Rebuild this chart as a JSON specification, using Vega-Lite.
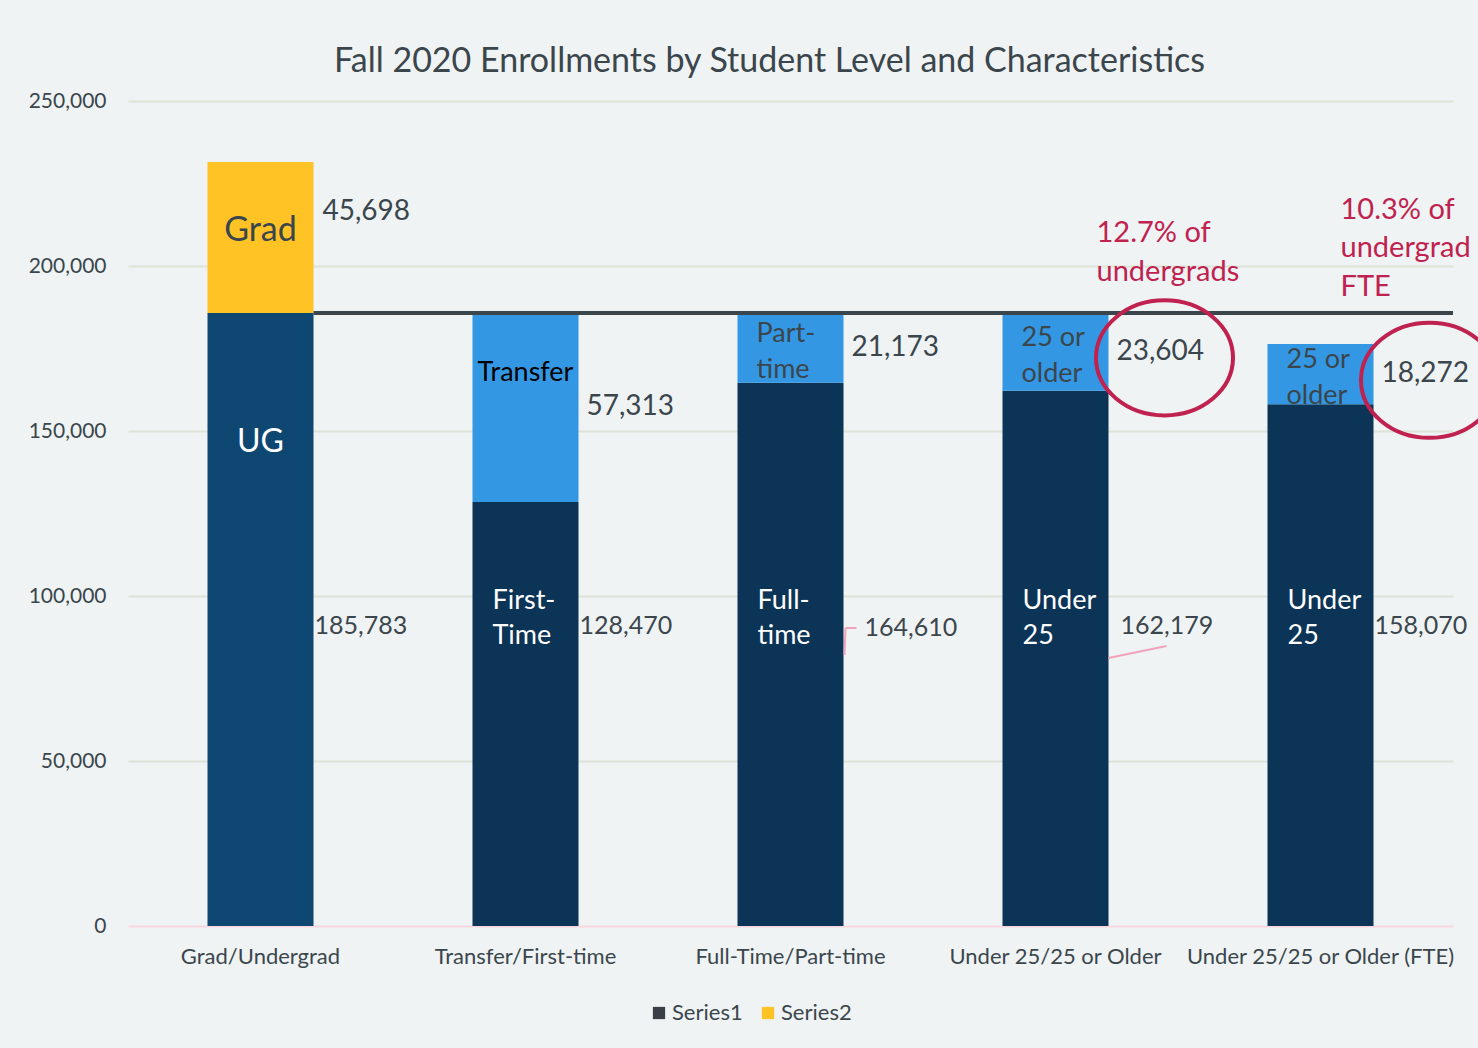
{
  "$schema": "https://vega.github.io/schema/vega-lite/v6.json",
  "width": 1325,
  "height": 825,
  "autosize": {"type": "none"},
  "padding": {"left": 128, "top": 101, "right": 25, "bottom": 122},
  "background": "#EFF3F4",
  "config": {"font": "Lato", "view": {"stroke": null}},
  "title": {"text": "Fall 2020 Enrollments by Student Level and Characteristics", "fontSize": 34, "fontWeight": "normal", "color": "#3B464C", "anchor": "middle", "frame": "group", "dx": -21, "offset": 11, "font": "Lato"},
  "data": {"values": [
    {"cat": "Grad/Undergrad", "series": "Series1", "part": "UG", "label": "UG", "value": 185783},
    {"cat": "Grad/Undergrad", "series": "Series2", "part": "Grad", "label": "Grad", "value": 45698},
    {"cat": "Transfer/First-time", "series": "Series1", "part": "First-Time", "label": "First-\nTime", "value": 128470},
    {"cat": "Transfer/First-time", "series": "Series2", "part": "Transfer", "label": "Transfer", "value": 57313},
    {"cat": "Full-Time/Part-time", "series": "Series1", "part": "Full-time", "label": "Full-\ntime", "value": 164610},
    {"cat": "Full-Time/Part-time", "series": "Series2", "part": "Part-time", "label": "Part-\ntime", "value": 21173},
    {"cat": "Under 25/25 or Older", "series": "Series1", "part": "Under 25", "label": "Under\n25", "value": 162179},
    {"cat": "Under 25/25 or Older", "series": "Series2", "part": "25 or older", "label": "25 or\nolder", "value": 23604},
    {"cat": "Under 25/25 or Older (FTE)", "series": "Series1", "part": "Under 25 (FTE)", "label": "Under\n25", "value": 158070},
    {"cat": "Under 25/25 or Older (FTE)", "series": "Series2", "part": "25 or older (FTE)", "label": "25 or\nolder", "value": 18272}
  ]},
  "layer": [
    {
      "transform": [{"stack": "value", "groupby": ["cat"], "sort": [{"field": "series", "order": "ascending"}], "as": ["v0", "v1"]}],
      "mark": {"type": "bar"},
      "encoding": {
        "x": {"field": "cat", "type": "nominal", "title": null, "sort": ["Grad/Undergrad", "Transfer/First-time", "Full-Time/Part-time", "Under 25/25 or Older", "Under 25/25 or Older (FTE)"],
          "scale": {"paddingInner": 0.6, "paddingOuter": 0.3},
          "axis": {"domain": false, "ticks": false, "labelFontSize": 22, "labelColor": "#3B464C", "labelPadding": 20, "labelAngle": 0, "labelLimit": 400, "labelOverlap": false, "grid": false}},
        "y": {"field": "v0", "type": "quantitative", "title": null, "scale": {"domain": [0, 250000], "nice": false, "padding": 0},
          "axis": {"values": [0, 50000, 100000, 150000, 200000, 250000], "labelExpr": "format(datum.value, ',')", "domain": false, "ticks": false, "labelFontSize": 21, "labelColor": "#3B464C", "labelPadding": 22,
            "gridColor": {"condition": {"test": "datum.value === 0", "value": "#F8D7DE"}, "value": "#DDE3D8"}, "gridWidth": 2}},
        "y2": {"field": "v1"},
        "color": {"field": "part", "type": "nominal",
          "scale": {"domain": ["Series1", "Series2", "UG", "Grad", "First-Time", "Transfer", "Full-time", "Part-time", "Under 25", "25 or older", "Under 25 (FTE)", "25 or older (FTE)"],
            "range": ["#3A3F45", "#FFC325", "#0F4773", "#FFC325", "#0C3457", "#3497E3", "#0C3457", "#3497E3", "#0C3457", "#3497E3", "#0C3457", "#3497E3"]},
          "legend": {"values": ["Series1", "Series2"], "title": null, "orient": "none", "legendX": 520, "legendY": 901, "direction": "horizontal", "symbolType": "square", "symbolSize": 150, "symbolStrokeWidth": 0, "labelFontSize": 22, "labelColor": "#3B464C", "labelOffset": 2, "columnPadding": 14}}
      }
    },
    {
      "transform": [{"stack": "value", "groupby": ["cat"], "sort": [{"field": "series", "order": "ascending"}], "as": ["v0", "v1"]}, {"filter": "datum.part === 'UG'"}],
      "mark": {"type": "rule", "color": "#3A464B", "strokeWidth": 4},
      "encoding": {
        "x": {"field": "cat", "type": "nominal", "bandPosition": 1, "sort": ["Grad/Undergrad", "Transfer/First-time", "Full-Time/Part-time", "Under 25/25 or Older", "Under 25/25 or Older (FTE)"]},
        "x2": {"value": "width"},
        "y": {"field": "v1", "type": "quantitative", "title": null, "scale": {"domain": [0, 250000], "nice": false, "padding": 0}}
      }
    },
    {
      "transform": [{"filter": "datum.part === 'Under 25'"}],
      "mark": {"type": "rule", "color": "#F2A2BA", "strokeWidth": 2, "x2Offset": 58},
      "encoding": {
        "x": {"field": "cat", "type": "nominal", "bandPosition": 1, "sort": ["Grad/Undergrad", "Transfer/First-time", "Full-Time/Part-time", "Under 25/25 or Older", "Under 25/25 or Older (FTE)"]},
        "x2": {"field": "cat", "bandPosition": 1},
        "y": {"datum": 81200, "type": "quantitative", "title": null, "scale": {"domain": [0, 250000], "nice": false, "padding": 0}},
        "y2": {"datum": 84850}
      }
    },
    {
      "transform": [{"filter": "datum.part === 'Full-time'"}],
      "mark": {"type": "rule", "color": "#F2A2BA", "strokeWidth": 2, "xOffset": 1, "x2Offset": 2},
      "encoding": {
        "x": {"field": "cat", "type": "nominal", "bandPosition": 1, "sort": ["Grad/Undergrad", "Transfer/First-time", "Full-Time/Part-time", "Under 25/25 or Older", "Under 25/25 or Older (FTE)"]},
        "x2": {"field": "cat", "bandPosition": 1},
        "y": {"datum": 82100, "type": "quantitative", "title": null, "scale": {"domain": [0, 250000], "nice": false, "padding": 0}},
        "y2": {"datum": 90300}
      }
    },
    {
      "transform": [{"filter": "datum.part === 'Full-time'"}],
      "mark": {"type": "rule", "color": "#F2A2BA", "strokeWidth": 2, "xOffset": 2, "x2Offset": 13},
      "encoding": {
        "x": {"field": "cat", "type": "nominal", "bandPosition": 1, "sort": ["Grad/Undergrad", "Transfer/First-time", "Full-Time/Part-time", "Under 25/25 or Older", "Under 25/25 or Older (FTE)"]},
        "x2": {"field": "cat", "bandPosition": 1},
        "y": {"datum": 90300, "type": "quantitative", "title": null, "scale": {"domain": [0, 250000], "nice": false, "padding": 0}}
      }
    },
    {
      "transform": [{"filter": "datum.series === 'Series1' && datum.part !== 'Full-time' && datum.part !== 'Under 25'"}],
      "mark": {"type": "text", "align": "left", "baseline": "middle", "dx": 1, "fontSize": 25, "color": "#3B464C"},
      "encoding": {
        "x": {"field": "cat", "type": "nominal", "bandPosition": 1, "sort": ["Grad/Undergrad", "Transfer/First-time", "Full-Time/Part-time", "Under 25/25 or Older", "Under 25/25 or Older (FTE)"]},
        "y": {"datum": 91000, "type": "quantitative", "title": null, "scale": {"domain": [0, 250000], "nice": false, "padding": 0}},
        "text": {"field": "value", "type": "quantitative", "format": ","}
      }
    },
    {
      "transform": [{"filter": "datum.part === 'Full-time'"}],
      "mark": {"type": "text", "align": "left", "baseline": "middle", "dx": 21, "fontSize": 25, "color": "#3B464C"},
      "encoding": {
        "x": {"field": "cat", "type": "nominal", "bandPosition": 1, "sort": ["Grad/Undergrad", "Transfer/First-time", "Full-Time/Part-time", "Under 25/25 or Older", "Under 25/25 or Older (FTE)"]},
        "y": {"datum": 90300, "type": "quantitative", "title": null, "scale": {"domain": [0, 250000], "nice": false, "padding": 0}},
        "text": {"field": "value", "type": "quantitative", "format": ","}
      }
    },
    {
      "transform": [{"filter": "datum.part === 'Under 25'"}],
      "mark": {"type": "text", "align": "left", "baseline": "middle", "dx": 12, "fontSize": 25, "color": "#3B464C"},
      "encoding": {
        "x": {"field": "cat", "type": "nominal", "bandPosition": 1, "sort": ["Grad/Undergrad", "Transfer/First-time", "Full-Time/Part-time", "Under 25/25 or Older", "Under 25/25 or Older (FTE)"]},
        "y": {"datum": 91000, "type": "quantitative", "title": null, "scale": {"domain": [0, 250000], "nice": false, "padding": 0}},
        "text": {"field": "value", "type": "quantitative", "format": ","}
      }
    },
    {
      "transform": [
        {"stack": "value", "groupby": ["cat"], "sort": [{"field": "series", "order": "ascending"}], "as": ["v0", "v1"]},
        {"filter": "datum.series === 'Series2' && datum.part !== 'Grad'"},
        {"fold": ["v0", "v1"], "as": ["k", "kv"]},
        {"aggregate": [{"op": "mean", "field": "kv", "as": "mid"}], "groupby": ["cat", "series", "part", "label", "value"]}
      ],
      "mark": {"type": "text", "align": "left", "baseline": "middle", "dx": 8, "fontSize": 28, "color": "#3B464C"},
      "encoding": {
        "x": {"field": "cat", "type": "nominal", "bandPosition": 1, "sort": ["Grad/Undergrad", "Transfer/First-time", "Full-Time/Part-time", "Under 25/25 or Older", "Under 25/25 or Older (FTE)"]},
        "y": {"field": "mid", "type": "quantitative", "title": null, "scale": {"domain": [0, 250000], "nice": false, "padding": 0}},
        "text": {"field": "value", "type": "quantitative", "format": ","}
      }
    },
    {
      "transform": [{"filter": "datum.part === 'Grad'"}],
      "mark": {"type": "text", "align": "left", "baseline": "middle", "dx": 9, "fontSize": 28, "color": "#3B464C"},
      "encoding": {
        "x": {"field": "cat", "type": "nominal", "bandPosition": 1, "sort": ["Grad/Undergrad", "Transfer/First-time", "Full-Time/Part-time", "Under 25/25 or Older", "Under 25/25 or Older (FTE)"]},
        "y": {"datum": 216400, "type": "quantitative", "title": null, "scale": {"domain": [0, 250000], "nice": false, "padding": 0}},
        "text": {"field": "value", "type": "quantitative", "format": ","}
      }
    },
    {
      "transform": [{"filter": "datum.part === 'UG'"}],
      "mark": {"type": "text", "align": "center", "baseline": "middle", "fontSize": 32, "color": "#FFFFFF"},
      "encoding": {
        "x": {"field": "cat", "type": "nominal", "sort": ["Grad/Undergrad", "Transfer/First-time", "Full-Time/Part-time", "Under 25/25 or Older", "Under 25/25 or Older (FTE)"]},
        "y": {"datum": 146700, "type": "quantitative", "title": null, "scale": {"domain": [0, 250000], "nice": false, "padding": 0}},
        "text": {"field": "label"}
      }
    },
    {
      "transform": [{"filter": "datum.part === 'Transfer'"}],
      "mark": {"type": "text", "align": "center", "baseline": "middle", "fontSize": 27, "color": "#000000"},
      "encoding": {
        "x": {"field": "cat", "type": "nominal", "sort": ["Grad/Undergrad", "Transfer/First-time", "Full-Time/Part-time", "Under 25/25 or Older", "Under 25/25 or Older (FTE)"]},
        "y": {"datum": 167600, "type": "quantitative", "title": null, "scale": {"domain": [0, 250000], "nice": false, "padding": 0}},
        "text": {"field": "label"}
      }
    },
    {
      "transform": [
        {"stack": "value", "groupby": ["cat"], "sort": [{"field": "series", "order": "ascending"}], "as": ["v0", "v1"]},
        {"filter": "datum.part === 'Grad'"},
        {"fold": ["v0", "v1"], "as": ["k", "kv"]},
        {"aggregate": [{"op": "mean", "field": "kv", "as": "mid"}], "groupby": ["cat", "series", "part", "label", "value"]}
      ],
      "mark": {"type": "text", "align": "center", "baseline": "middle", "dy": -7, "fontSize": 34, "color": "#3B464C"},
      "encoding": {
        "x": {"field": "cat", "type": "nominal", "sort": ["Grad/Undergrad", "Transfer/First-time", "Full-Time/Part-time", "Under 25/25 or Older", "Under 25/25 or Older (FTE)"]},
        "y": {"field": "mid", "type": "quantitative", "title": null, "scale": {"domain": [0, 250000], "nice": false, "padding": 0}},
        "text": {"field": "label"}
      }
    },
    {
      "transform": [
        {"stack": "value", "groupby": ["cat"], "sort": [{"field": "series", "order": "ascending"}], "as": ["v0", "v1"]},
        {"filter": "datum.series === 'Series2' && datum.part !== 'Grad' && datum.part !== 'Transfer'"},
        {"fold": ["v0", "v1"], "as": ["k", "kv"]},
        {"aggregate": [{"op": "mean", "field": "kv", "as": "mid"}], "groupby": ["cat", "series", "part", "label", "value"]}
      ],
      "mark": {"type": "text", "align": "left", "baseline": "middle", "dx": 19, "dy": -14, "fontSize": 27, "lineHeight": 36, "lineBreak": "\n", "color": "#3B464C"},
      "encoding": {
        "x": {"field": "cat", "type": "nominal", "bandPosition": 0, "sort": ["Grad/Undergrad", "Transfer/First-time", "Full-Time/Part-time", "Under 25/25 or Older", "Under 25/25 or Older (FTE)"]},
        "y": {"field": "mid", "type": "quantitative", "title": null, "scale": {"domain": [0, 250000], "nice": false, "padding": 0}},
        "text": {"field": "label"}
      }
    },
    {
      "transform": [{"filter": "datum.series === 'Series1' && datum.part !== 'UG'"}],
      "mark": {"type": "text", "align": "left", "baseline": "middle", "dx": 20, "dy": -12, "fontSize": 27, "lineHeight": 35, "lineBreak": "\n", "color": "#FFFFFF"},
      "encoding": {
        "x": {"field": "cat", "type": "nominal", "bandPosition": 0, "sort": ["Grad/Undergrad", "Transfer/First-time", "Full-Time/Part-time", "Under 25/25 or Older", "Under 25/25 or Older (FTE)"]},
        "y": {"datum": 95000, "type": "quantitative", "title": null, "scale": {"domain": [0, 250000], "nice": false, "padding": 0}},
        "text": {"field": "label"}
      }
    },
    {
      "transform": [
        {"stack": "value", "groupby": ["cat"], "sort": [{"field": "series", "order": "ascending"}], "as": ["v0", "v1"]},
        {"filter": "datum.part === '25 or older' || datum.part === '25 or older (FTE)'"},
        {"fold": ["v0", "v1"], "as": ["k", "kv"]},
        {"aggregate": [{"op": "mean", "field": "kv", "as": "mid"}], "groupby": ["cat", "series", "part", "label", "value"]}
      ],
      "mark": {"type": "point", "shape": "M-1,0A1,0.84,0,1,1,1,0A1,0.84,0,1,1,-1,0Z", "size": 18769, "filled": false, "color": "#C0224F", "strokeWidth": 4, "opacity": 1, "xOffset": 56, "yOffset": 6},
      "encoding": {
        "x": {"field": "cat", "type": "nominal", "bandPosition": 1, "sort": ["Grad/Undergrad", "Transfer/First-time", "Full-Time/Part-time", "Under 25/25 or Older", "Under 25/25 or Older (FTE)"]},
        "y": {"field": "mid", "type": "quantitative", "title": null, "scale": {"domain": [0, 250000], "nice": false, "padding": 0}}
      }
    },
    {
      "data": {"values": [
        {"cat": "Under 25/25 or Older", "note": "12.7% of\nundergrads"}
      ]},
      "mark": {"type": "text", "align": "left", "baseline": "middle", "dx": -12, "fontSize": 29, "lineHeight": 39, "lineBreak": "\n", "color": "#C0224F"},
      "encoding": {
        "x": {"field": "cat", "type": "nominal", "bandPosition": 1, "sort": ["Grad/Undergrad", "Transfer/First-time", "Full-Time/Part-time", "Under 25/25 or Older", "Under 25/25 or Older (FTE)"]},
        "y": {"datum": 210000, "type": "quantitative", "title": null, "scale": {"domain": [0, 250000], "nice": false, "padding": 0}},
        "text": {"field": "note"}
      }
    },
    {
      "data": {"values": [
        {"cat": "Under 25/25 or Older (FTE)", "note": "10.3% of\nundergrad\nFTE"}
      ]},
      "mark": {"type": "text", "align": "left", "baseline": "middle", "dx": -33, "fontSize": 29, "lineHeight": 38.5, "lineBreak": "\n", "color": "#C0224F"},
      "encoding": {
        "x": {"field": "cat", "type": "nominal", "bandPosition": 1, "sort": ["Grad/Undergrad", "Transfer/First-time", "Full-Time/Part-time", "Under 25/25 or Older", "Under 25/25 or Older (FTE)"]},
        "y": {"datum": 217000, "type": "quantitative", "title": null, "scale": {"domain": [0, 250000], "nice": false, "padding": 0}},
        "text": {"field": "note"}
      }
    }
  ]
}
